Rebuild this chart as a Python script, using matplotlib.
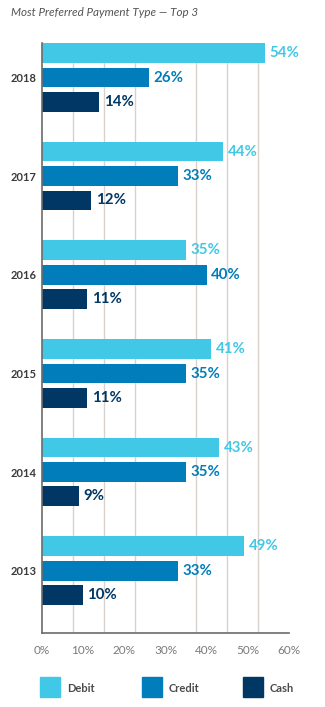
import numpy as np
import matplotlib
matplotlib.use('Agg')
import matplotlib.pyplot as plt
from matplotlib.patches import Rectangle
from matplotlib.ticker import MultipleLocator, FuncFormatter

plt.rcParams['font.family'] = ['Lato', 'DejaVu Sans']

years = ['2013', '2014', '2015', '2016', '2017', '2018']
debit = [49, 43, 41, 35, 44, 54]
credit = [33, 35, 35, 40, 33, 26]
cash = [10, 9, 11, 11, 12, 14]

series = ['Debit', 'Credit', 'Cash']
colors = ['#41c8e6', '#007dba', '#003764']

fig = plt.figure(figsize=(3.25, 7.07), dpi=100)
ax = fig.add_axes([41.7 / 325, 1 - 633 / 707, (289.3 - 41.7) / 325, (633 - 43) / 707])

y = np.arange(len(years))
offsets = [0.25, 0.0, -0.245]
h = 0.2
for vals, off, c in zip([debit, credit, cash], offsets, colors):
    bars = ax.barh(y + off, vals, height=h, color=c, zorder=3)
    for b, v in zip(bars, vals):
        ax.text(v + 1.1, b.get_y() + h / 2, f'{v}%', va='center', ha='left',
                fontsize=10.8, fontweight='bold', color=c, zorder=4)

ax.set_xlim(0, 60)
ax.set_ylim(-0.63, 5.35)
ax.set_yticks(y)
ax.set_yticklabels(years, fontsize=8, fontweight='bold', color='#3a3a3a')
ax.xaxis.set_major_locator(MultipleLocator(10))
ax.xaxis.set_minor_locator(MultipleLocator(7.5))
ax.xaxis.set_major_formatter(FuncFormatter(lambda v, p: f'{v:.0f}%'))
ax.tick_params(axis='x', which='both', length=0, pad=9, labelsize=8.5, labelcolor='#7a7a7a')
ax.tick_params(axis='y', length=0, pad=4)
ax.grid(axis='x', which='minor', color='#d9d2cc', lw=1.0, zorder=0)
ax.grid(axis='x', which='major', visible=False)
ax.grid(axis='y', visible=False)

for s in ['top', 'right']:
    ax.spines[s].set_visible(False)
for s in ['left', 'bottom']:
    ax.spines[s].set_color('#6b6b6b')
    ax.spines[s].set_linewidth(1.2)
    ax.spines[s].set_zorder(5)

fig.text(11 / 325, 1 - 12 / 707, 'Most Preferred Payment Type \u2014 Top 3', fontsize=8.4,
         style='italic', color='#555555', va='center', ha='left')

# legend squares drawn in figure pixels
leg_x = [40, 142, 243]
for lx, name, c in zip(leg_x, series, colors):
    fig.add_artist(Rectangle((lx / 325, 1 - 697 / 707), 20 / 325, 20 / 707,
                             transform=fig.transFigure, color=c))
    fig.text((lx + 27) / 325, 1 - 688 / 707, name, fontsize=8, fontweight='bold',
             color='#4a4a4a', va='center', ha='left')

fig.savefig('out.png', dpi=100)
